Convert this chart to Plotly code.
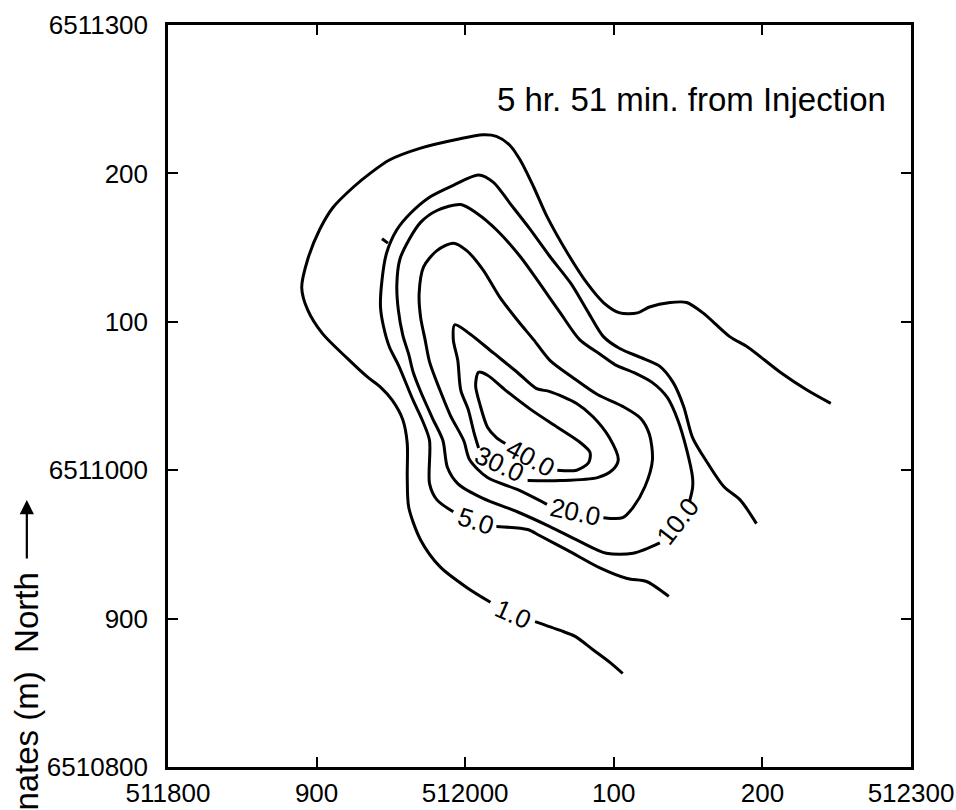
import plotly.graph_objects as go

# ---- axes ----
x_ticks = [511800, 511900, 512000, 512100, 512200, 512300]
x_ticktext = ["511800", "900", "512000", "100", "200", "512300"]
y_ticks = [6510800, 6510900, 6511000, 6511100, 6511200, 6511300]
y_ticktext = ["6510800", "900", "6511000", "100", "200", "6511300"]

# ---- contour lines (easting, northing in m); None = gap left for the label ----
c1_x = [512246, 512230, 512212, 512190, 512178, 512160, 512149, 512138, 512124, 512116, 512104, 512093,
        512082, 512069, 512055, 512046, 512037, 512030, 512021, 512012, 511995, 511970, 511949, 511936,
        511925, 511911, 511902, 511894, 511890, 511894, 511904, 511920, 511934, 511943, 511951, 511958,
        511961, 511961, 511962, 511970, 511983, 512001, 512017, None, 512047, 512064, 512074, 512086,
        512098, 512106]
c1_y = [6511045, 6511054, 6511066, 6511083, 6511090, 6511106, 6511113, 6511113, 6511110, 6511106, 6511106,
        6511113, 6511126, 6511146, 6511171, 6511191, 6511209, 6511219, 6511225, 6511226, 6511223, 6511217,
        6511209, 6511200, 6511191, 6511177, 6511162, 6511142, 6511123, 6511108, 6511092, 6511076, 6511063,
        6511056, 6511047, 6511034, 6511018, 6510995, 6510975, 6510953, 6510935, 6510921, 6510911, None,
        6510898, 6510892, 6510888, 6510879, 6510870, 6510863]

c5_x = [512196, 512185, 512174, 512163, 512153, 512147, 512140, 512131, 512118, 512104, 512093, 512083,
        512071, 512057, 512044, 512030, 512019, 512009, 511992, 511976, 511963, 511954, 511947, 511944,
        511943, 511945, 511949, 511955, 511965, 511971, 511976, 511976, 511981, 511992, None, 512021,
        512042, 512050, 512069, 512091, 512109, 512122, 512133, 512137]
c5_y = [6510964, 6510980, 6510989, 6511005, 6511022, 6511043, 6511059, 6511070, 6511076, 6511082, 6511090,
        6511106, 6511126, 6511144, 6511162, 6511180, 6511194, 6511199, 6511192, 6511184, 6511173, 6511162,
        6511146, 6511128, 6511110, 6511097, 6511083, 6511071, 6511047, 6511034, 6511020, 6510991, 6510980,
        6510972, None, 6510962, 6510960, 6510956, 6510946, 6510934, 6510927, 6510925, 6510918, 6510915]

c10_x = [512151, 512153, 512153, 512149, 512143, 512136, 512126, 512113, 512101, 512091, 512077, 512064,
         512050, 512037, 512021, 512008, 511997, 511981, 511970, 511962, 511956, 511954, 511955, 511958,
         511962, 511965, 511970, 511978, 511985, 511988, 511995, 512012, 512035, 512057, 512077, 512095,
         512113, 512131]
c10_y = [6510979, 6510988, 6510995, 6511014, 6511034, 6511049, 6511059, 6511066, 6511071, 6511078, 6511088,
         6511106, 6511126, 6511144, 6511162, 6511173, 6511179, 6511175, 6511167, 6511155, 6511142, 6511125,
         6511108, 6511091, 6511078, 6511066, 6511053, 6511035, 6511020, 6511002, 6510991, 6510981, 6510972,
         6510962, 6510952, 6510944, 6510944, 6510951]

c20_x = [512093, 512106, 512113, 512121, 512126, 512124, 512118, 512106, 512089, 512073, 512057, 512046,
         512036, 512023, 512012, 512001, 511992, 511981, 511972, 511969, 511970, 511973, 511976, 511983,
         511990, 511999, 512003, 512015, 512035, 512055]
c20_y = [6510968, 6510968, 6510975, 6510989, 6511007, 6511024, 6511035, 6511043, 6511051, 6511062, 6511074,
         6511088, 6511100, 6511117, 6511135, 6511148, 6511153, 6511148, 6511137, 6511119, 6511103, 6511088,
         6511073, 6511054, 6511037, 6511020, 6511007, 6510995, 6510987, 6510977]

c30_x = [512042, 512064, 512089, 512099, 512103, 512097, 512086, 512075, 512057, 512048, 512035, 512019,
         512003, 511993, 511992, 511995, 511997, 512002, 512006, 512009]
c30_y = [6510993, 6510993, 6510995, 6511000, 6511007, 6511022, 6511036, 6511045, 6511053, 6511055, 6511066,
         6511079, 6511092, 6511098, 6511088, 6511074, 6511054, 6511041, 6511025, 6511015]

c40_x = [512062, 512075, 512083, 512084, 512077, 512062, 512044, 512027, 512015, 512009, 512007, 512010,
         512015, 512021, 512027]
c40_y = [6511000, 6511000, 6511005, 6511012, 6511019, 6511029, 6511041, 6511054, 6511064, 6511066, 6511057,
         6511044, 6511029, 6511022, 6511018]

speck_x = [511944, 511948]
speck_y = [6511156, 6511153]

# ---- contour labels ----
label_text = ["1.0", "5.0", "10.0", "20.0", "30.0", "40.0"]
label_x = [512032, 512007, 512143, 512074, 512023, 512044]
label_y = [6510903, 6510966, 6510966, 6510972, 6511004, 6511008]
label_angle = [24, 18, -52, 12, 25, 28]

title_text = "5 hr. 51 min. from Injection"
yaxis_text = "Coordinates (m)  North"

FONT = "Liberation Sans, Arial, Helvetica, sans-serif"

fig = go.Figure()
for xs, ys in [(c1_x, c1_y), (c5_x, c5_y), (c10_x, c10_y), (c20_x, c20_y),
               (c30_x, c30_y), (c40_x, c40_y), (speck_x, speck_y)]:
    fig.add_trace(go.Scatter(x=xs, y=ys, mode="lines", connectgaps=False,
                             line=dict(color="black", width=3, shape="spline", smoothing=0.8),
                             hoverinfo="skip", showlegend=False))

annotations = []
for t, lx, ly, ang in zip(label_text, label_x, label_y, label_angle):
    annotations.append(dict(x=lx, y=ly, xref="x", yref="y", text=t, showarrow=False,
                            textangle=ang, font=dict(family=FONT, size=26, color="black"),
                            xanchor="center", yanchor="middle"))

annotations.append(dict(x=0.7045, y=0.899, xref="paper", yref="paper", text=title_text,
                        showarrow=False, font=dict(family=FONT, size=33, color="black"),
                        xanchor="center", yanchor="middle"))
annotations.append(dict(x=-0.19, y=0.2655, xref="paper", yref="paper", text=yaxis_text,
                        showarrow=False, textangle=-90,
                        font=dict(family=FONT, size=33, color="black"),
                        xanchor="center", yanchor="top"))
annotations.append(dict(x=-0.19, y=0.3598, xref="paper", yref="paper", text="",
                        showarrow=True, ax=0, ay=60, arrowhead=2, arrowsize=1.3,
                        arrowwidth=2.2, arrowcolor="black"))

axis_common = dict(showline=True, linecolor="black", linewidth=2.5, mirror="ticks",
                   ticks="inside", ticklen=10, tickwidth=2, tickcolor="black",
                   showgrid=False, zeroline=False, automargin=False,
                   tickfont=dict(family=FONT, size=26, color="black"))

fig.update_layout(
    width=956, height=810,
    margin=dict(l=168, r=45, t=25, b=43),
    paper_bgcolor="white", plot_bgcolor="white",
    showlegend=False,
    annotations=annotations,
    xaxis=dict(range=[511800, 512300], tickmode="array", tickvals=x_ticks, ticktext=x_ticktext,
               ticklabelstandoff=1, **axis_common),
    yaxis=dict(range=[6510800, 6511300], tickmode="array", tickvals=y_ticks, ticktext=y_ticktext,
               ticklabelstandoff=12, **axis_common),
)

fig.write_html("out.html")
